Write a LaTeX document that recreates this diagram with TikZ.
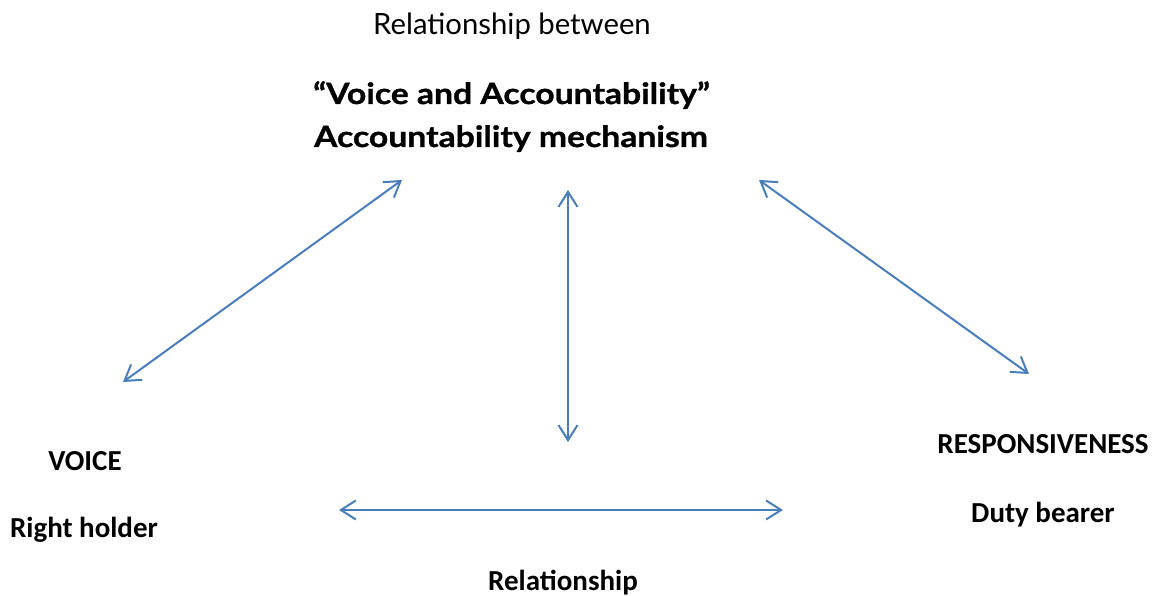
\documentclass[tikz,border=0pt]{standalone}
\usepackage{fontspec}
\setmainfont{Carlito}
\newfontfamily\headfont{Lato}
\newfontfamily\headboldfont{Lato}[FakeStretch=1.15, BoldFeatures={FakeBold=1}]
\usetikzlibrary{arrows.meta}
\definecolor{arrowblue}{HTML}{4A7EBB}
\tikzset{
  link/.style={draw=arrowblue, line width=2pt,
    {Straight Barb[length=15pt,width=19pt]}-{Straight Barb[length=15pt,width=19pt]}},
  head/.style={anchor=base, inner sep=0pt, font=\headfont\fontsize{29.3}{32}\selectfont},
  headbold/.style={head, font=\headboldfont\bfseries\fontsize{29.3}{32}\selectfont},
  label/.style={anchor=base, inner sep=0pt, font=\bfseries\fontsize{29}{32}\selectfont}
}
\begin{document}
\begin{tikzpicture}[x=1pt,y=-1pt]
\useasboundingbox (0,0) rectangle (1163,596);

% heading
\node[head] (t0) at (512,35) {Relationship between};
\node[headbold] (t1) at (511.5,104) {“Voice and Accountability”};
\node[headbold] (t2) at (511,147) {Accountability mechanism};

% the three parties and the relationship
\node[label] (voice) at (85,470) {VOICE};
\node[label] (right) at (84,537.5) {Right holder};
\node[label] (resp) at (1043,453) {RESPONSIVENESS};
\node[label] (duty) at (1043,522) {Duty bearer};
\node[label] (rel) at (563,590) {Relationship};

% arrow end points
\coordinate (aL1) at (402,180);
\coordinate (aL2) at (123,382);
\coordinate (aM1) at (568,190);
\coordinate (aM2) at (568,442);
\coordinate (aR1) at (759,180);
\coordinate (aR2) at (1029,374);
\coordinate (aH1) at (339,510);
\coordinate (aH2) at (783,510);

\draw[link] (aL2) -- (aL1);
\draw[link] (aM1) -- (aM2);
\draw[link] (aR1) -- (aR2);
\draw[link] (aH1) -- (aH2);
\end{tikzpicture}
\end{document}
